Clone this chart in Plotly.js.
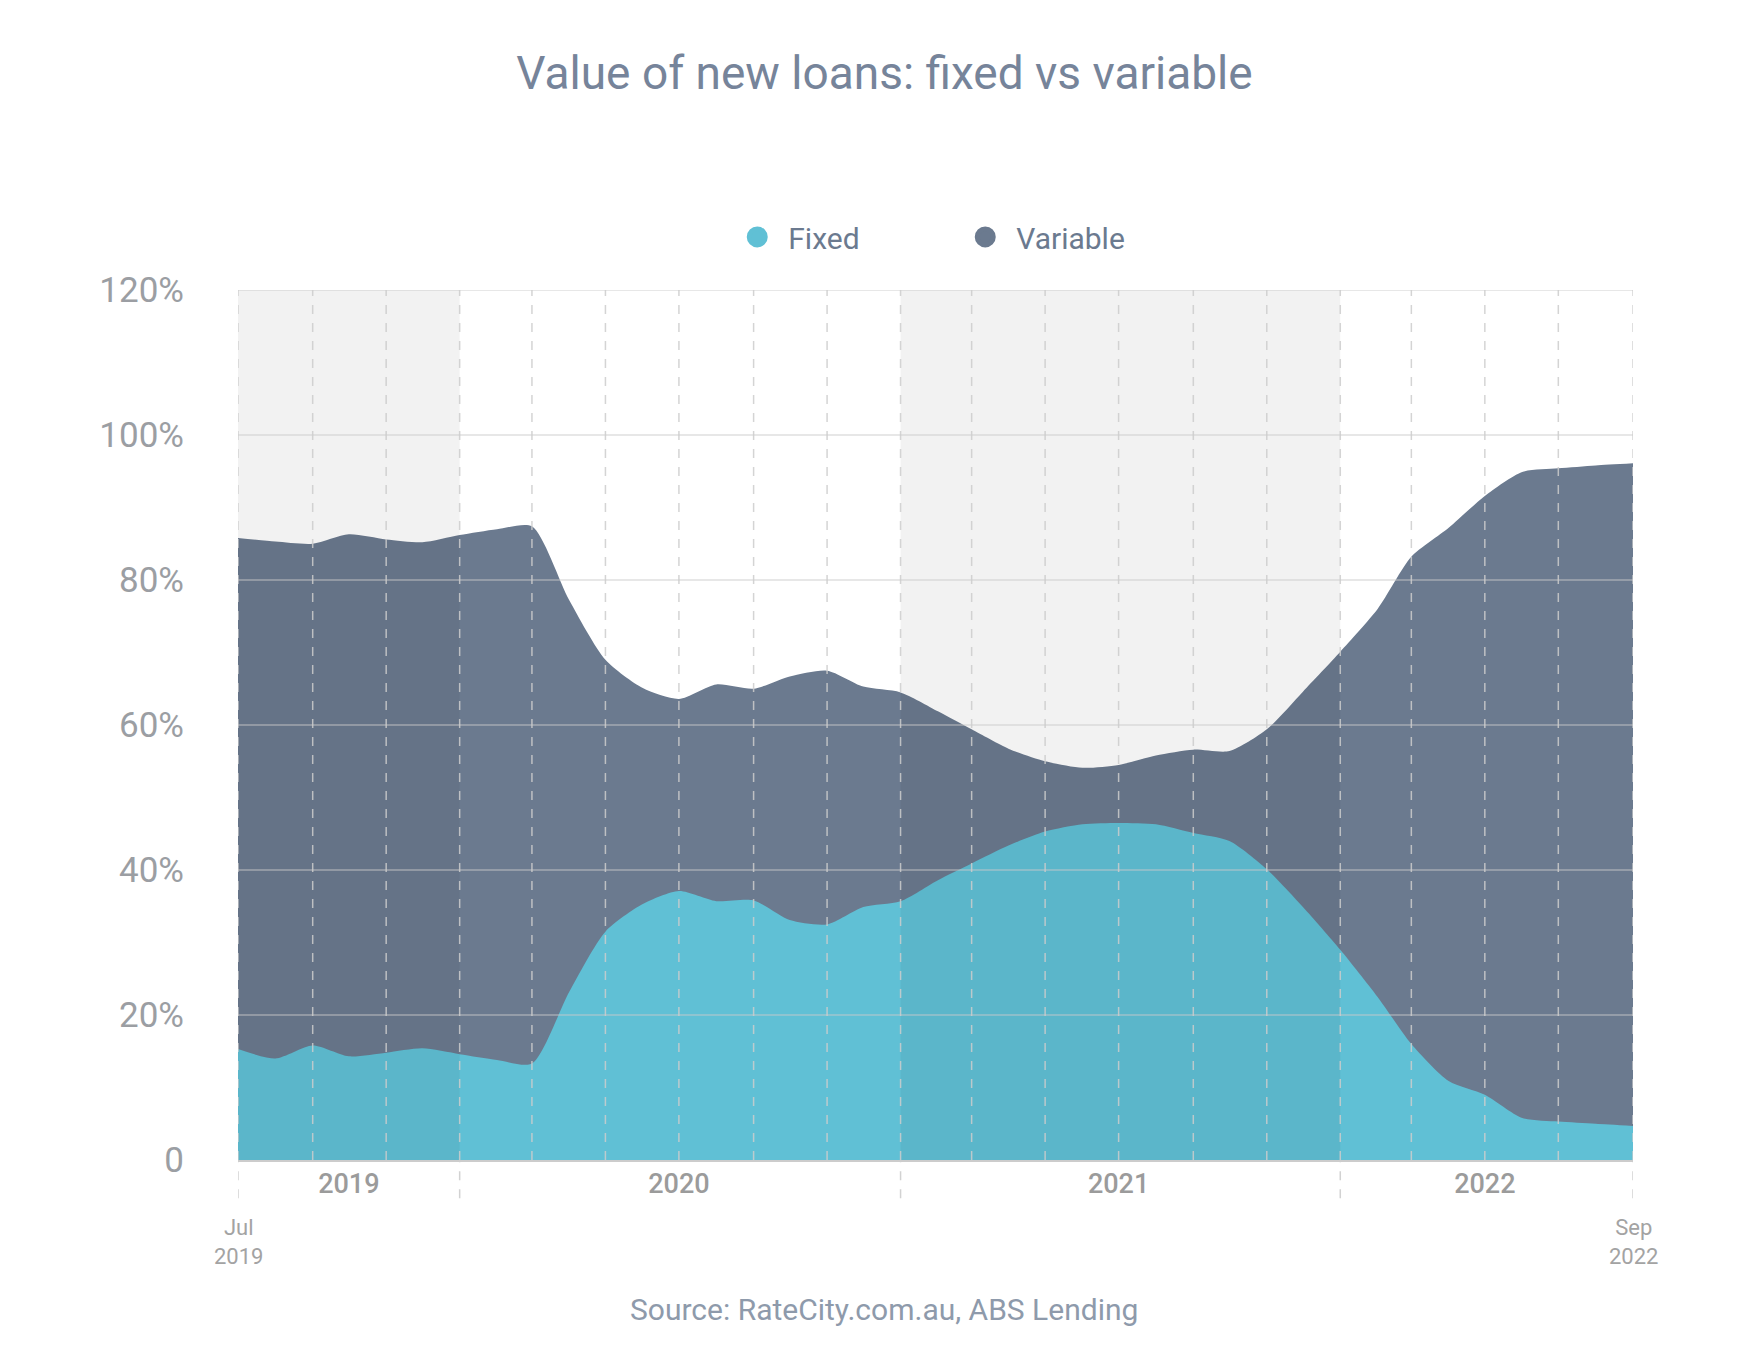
<!DOCTYPE html>
<html>
<head>
<meta charset="utf-8">
<script src="https://cdn.plot.ly/plotly-3.0.1.min.js"></script>
<style>
  html, body { margin: 0; padding: 0; background: #fff; }
  #plot { width: 1748px; height: 1358px; }
</style>
</head>
<body>
<div id="plot"></div>
<script>
const months = [
  '2019-07-01', '2019-08-01', '2019-09-01', '2019-10-01', '2019-11-01', '2019-12-01',
  '2020-01-01', '2020-02-01', '2020-03-01', '2020-04-01', '2020-05-01', '2020-06-01',
  '2020-07-01', '2020-08-01', '2020-09-01', '2020-10-01', '2020-11-01', '2020-12-01',
  '2021-01-01', '2021-02-01', '2021-03-01', '2021-04-01', '2021-05-01', '2021-06-01',
  '2021-07-01', '2021-08-01', '2021-09-01', '2021-10-01', '2021-11-01', '2021-12-01',
  '2022-01-01', '2022-02-01', '2022-03-01', '2022-04-01', '2022-05-01', '2022-06-01',
  '2022-07-01', '2022-08-01', '2022-09-01'
];

const fixed = [
  15.3, 14.0, 15.8, 14.3, 14.8, 15.4, 14.6, 13.8, 13.3, 23.2,
  31.5, 35.3, 37.1, 35.7, 35.8, 33.1, 32.5, 34.9, 35.7, 38.6,
  40.9, 43.4, 45.3, 46.3, 46.5, 46.3, 45.1, 44.0, 40.1, 34.9,
  29.0, 22.5, 16.0, 10.9, 9.0, 5.8, 5.3, 5.0, 4.7
];

const variable = [
  85.8, 85.3, 85.0, 86.3, 85.6, 85.2, 86.2, 87.0, 87.4, 77.2,
  69.0, 65.1, 63.6, 65.6, 65.0, 66.7, 67.5, 65.3, 64.5, 61.9,
  59.4, 56.7, 55.0, 54.1, 54.5, 55.8, 56.6, 56.4, 59.4, 64.6,
  70.1, 76.0, 83.2, 87.2, 91.6, 94.9, 95.4, 95.8, 96.1
];

// year labels sit in the middle of each year segment
const yearTickVals = ['2019-10-01', '2020-07-01', '2021-07-01', '2022-05-01'];
const yearTickText = ['2019', '2020', '2021', '2022'];
const yearBounds = ['2019-07-01', '2020-01-01', '2021-01-01', '2022-01-01', '2022-09-01'];

const yTickVals = [0, 20, 40, 60, 80, 100, 120];
const yTickText = ['0', '20%', '40%', '60%', '80%', '100%', '120%'];

const FIXED_COLOR = '#60c0d5';
const VARIABLE_COLOR = '#6b7a8f';

const traces = [
  {
    x: months,
    y: variable,
    type: 'scatter',
    mode: 'lines',
    fill: 'tozeroy',
    fillcolor: VARIABLE_COLOR,
    line: { width: 0, shape: 'spline', smoothing: 0.7, color: VARIABLE_COLOR },
    showlegend: false,
    hoverinfo: 'skip',
  },
  {
    x: months,
    y: fixed,
    type: 'scatter',
    mode: 'lines',
    fill: 'tozeroy',
    fillcolor: FIXED_COLOR,
    line: { width: 0, shape: 'spline', smoothing: 0.7, color: FIXED_COLOR },
    showlegend: false,
    hoverinfo: 'skip',
  },
  // legend-only entries with round markers
  {
    x: [null], y: [null], type: 'scatter', mode: 'markers', name: 'Fixed',
    marker: { color: FIXED_COLOR, size: 22, symbol: 'circle', line: { color: FIXED_COLOR, width: 5 } },
  },
  {
    x: [null], y: [null], type: 'scatter', mode: 'markers', name: 'Variable',
    marker: { color: VARIABLE_COLOR, size: 22, symbol: 'circle', line: { color: VARIABLE_COLOR, width: 5 } },
  },
];

const shapes = [];

// shaded years (2019 and 2021)
[[yearBounds[0], yearBounds[1]], [yearBounds[2], yearBounds[3]]].forEach(([a, b]) => {
  shapes.push({
    type: 'rect', layer: 'above', xref: 'x', yref: 'paper',
    x0: a, x1: b, y0: 0, y1: 1,
    fillcolor: 'rgba(0,0,0,0.05)', line: { width: 0 },
  });
});

// horizontal grid drawn over the areas
yTickVals.slice(1).forEach((v) => {
  shapes.push({
    type: 'line', layer: 'above', xref: 'paper', yref: 'y',
    x0: 0, x1: 1, y0: v, y1: v,
    line: { color: 'rgba(200,200,200,0.6)', width: 1.5 },
  });
});

// dashed vertical grid every two months
months.filter((d, i) => i % 2 === 0).forEach((d) => {
  shapes.push({
    type: 'line', layer: 'above', xref: 'x', yref: 'paper',
    x0: d, x1: d, y0: 0, y1: 1,
    line: { color: 'rgba(205,205,205,0.85)', width: 1.5, dash: 'dash' },
  });
});

// year boundaries continue below the axis
yearBounds.forEach((d) => {
  shapes.push({
    type: 'line', layer: 'above', xref: 'x', yref: 'paper',
    x0: d, x1: d, y0: -0.044, y1: 0,
    line: { color: 'rgba(205,205,205,0.9)', width: 1.5, dash: 'dash' },
  });
});

const endLabelFont = { family: 'Roboto', size: 22, color: '#a3a3a3' };

const layout = {
  width: 1748,
  height: 1358,
  paper_bgcolor: '#ffffff',
  plot_bgcolor: '#ffffff',
  font: { family: 'Roboto', color: '#9b9ea3' },
  margin: { l: 238, r: 115, t: 290, b: 198 },
  title: {
    text: 'Value of new loans: fixed vs variable',
    font: { family: 'Roboto', size: 46, color: '#76849a' },
    xref: 'container', x: 0.506, xanchor: 'center',
    yref: 'container', y: 0.946, yanchor: 'middle',
  },
  showlegend: true,
  legend: {
    orientation: 'h',
    x: 0.350, xanchor: 'left',
    y: 1.061, yanchor: 'middle',
    font: { family: 'Roboto', size: 30, color: '#6b7a8f' },
    itemwidth: 52,
    entrywidth: 161,
    entrywidthmode: 'pixels',
    itemclick: false,
  },
  xaxis: {
    type: 'date',
    range: [months[0], months[months.length - 1]],
    showgrid: false,
    zeroline: false,
    showline: true,
    linecolor: '#cccccc',
    linewidth: 2,
    layer: 'above traces',
    tickmode: 'array',
    tickvals: yearTickVals,
    ticktext: yearTickText,
    ticks: '',
    ticklabelstandoff: -1,
    tickfont: { family: 'Roboto', size: 27, color: '#9b9b9b', weight: 500 },
    fixedrange: true,
  },
  yaxis: {
    range: [0, 120],
    showgrid: false,
    zeroline: false,
    showline: false,
    tickmode: 'array',
    tickvals: yTickVals,
    ticktext: yTickText,
    ticks: '',
    ticklabelstandoff: 53,
    tickfont: { family: 'Roboto', size: 35, color: '#9b9ea3' },
    fixedrange: true,
  },
  shapes: shapes,
  annotations: [
    {
      text: 'Jul<br>2019', xref: 'x', yref: 'paper', x: months[0], y: -0.094,
      xanchor: 'center', yanchor: 'middle', showarrow: false, font: endLabelFont,
    },
    {
      text: 'Sep<br>2022', xref: 'x', yref: 'paper', x: months[months.length - 1], y: -0.094,
      xanchor: 'center', yanchor: 'middle', showarrow: false, font: endLabelFont,
    },
    {
      text: 'Source: RateCity.com.au, ABS Lending', xref: 'paper', yref: 'paper',
      x: 0.463, y: -0.1724, xanchor: 'center', yanchor: 'middle', showarrow: false,
      font: { family: 'Roboto', size: 30, color: '#8e9aab' },
    },
  ],
};

const config = {
  staticPlot: true,
  displayModeBar: false,
};

Plotly.newPlot('plot', traces, layout, config);
</script>
</body>
</html>
